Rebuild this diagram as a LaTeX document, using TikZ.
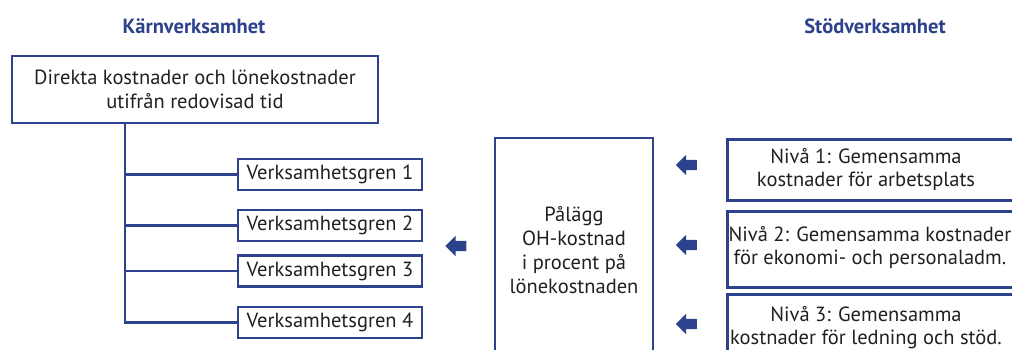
\documentclass[tikz,border=0pt]{standalone}
\usepackage{fontspec}
\setmainfont{PT Sans}
\usetikzlibrary{shapes.arrows}
\definecolor{ramblue}{RGB}{45,66,140}
\definecolor{textgray}{RGB}{35,31,32}

\begin{document}
\begin{tikzpicture}[x=1pt,y=-1pt,
  box/.style={draw=ramblue,line width=2.5pt,inner sep=0pt,text=textgray,align=center,
    font=\fontsize{20.5}{24}\selectfont},
  txt/.style={text=textgray,align=center,font=\fontsize{20.5}{23}\selectfont},
  rubrik/.style={text=ramblue,font=\fontsize{20.5}{22}\selectfont\bfseries},
  conn/.style={draw=ramblue,line width=2.5pt},
  pil/.style={single arrow,shape border rotate=180,fill=ramblue,inner sep=5pt,
    minimum height=21pt,single arrow head extend=5pt,single arrow head indent=0pt}]
\useasboundingbox (0,0) rectangle (1012,349);
\clip (0,0) rectangle (1012,349);
\node (karn) at (194,26) [rubrik] {Kärnverksamhet};
\node (stod) at (875,26) [rubrik] {Stödverksamhet};
\node (direkta) at (195,89.5) [box,minimum width=366,minimum height=67] {Direkta kostnader och lönekostnader\\utifrån redovisad tid};
\node (gren1) at (330,174.5) [box,minimum width=184,minimum height=31] {Verksamhetsgren 1};
\node (gren2) at (330,225.5) [box,minimum width=184,minimum height=31] {Verksamhetsgren 2};
\node (gren3) at (330,271) [box,minimum width=184,minimum height=31] {Verksamhetsgren 3};
\node (gren4) at (330,322.5) [box,minimum width=184,minimum height=31] {Verksamhetsgren 4};
\coordinate (stam) at (125,123);
\draw[conn] (stam) |- (gren4.west);
\draw[conn] (stam |- gren1.west) -- (gren1.west);
\draw[conn] (stam |- gren2.west) -- (gren2.west);
\draw[conn] (stam |- gren3.west) -- (gren3.west);
\node (pil0) at (458.5,246) [pil] {};
\node (palagg) at (574,250) [box,minimum width=158,minimum height=224] {Pålägg\\OH-kostnad\\i procent på\\lönekostnaden};
\node (pil1) at (689,165) [pil] {};
\node (pil2) at (689,245) [pil] {};
\node (pil3) at (689,324) [pil] {};
\node (niva1) at (726,138) [box,anchor=north west,minimum width=330,minimum height=61] {};
\node (niva2) at (726,210) [box,anchor=north west,minimum width=330,minimum height=76] {};
\node (niva3) at (726,293) [box,anchor=north west,minimum width=330,minimum height=80] {};
\node (niva1txt) at (866,170) [txt] {Nivå 1: Gemensamma\\kostnader för arbetsplats};
\node (niva2txt) at (870,248) [txt] {Nivå 2: Gemensamma kostnader\\för ekonomi- och personaladm.};
\node (niva3txt) at (866,327.5) [txt] {Nivå 3: Gemensamma\\kostnader för ledning och stöd.};
\end{tikzpicture}
\end{document}
